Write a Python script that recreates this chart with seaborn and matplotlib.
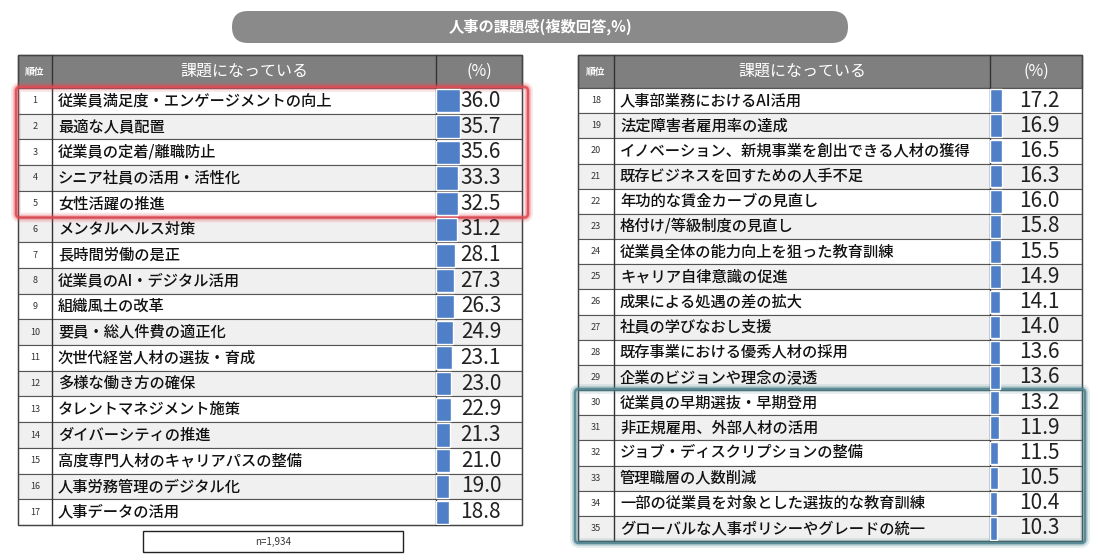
import numpy as np
import pandas as pd
import matplotlib.pyplot as plt
import seaborn as sns
from matplotlib.patches import Rectangle, FancyBboxPatch

sns.set_style("white")
plt.rcParams['font.family'] = ['Noto Sans CJK JP', 'DejaVu Sans']

title = "人事の課題感(複数回答,%)"
header_label = "課題になっている"
header_rank = "順位"
header_pct = "(%)"
note = "n=1,934"

left_items = ["従業員満足度・エンゲージメントの向上", "最適な人員配置", "従業員の定着/離職防止",
              "シニア社員の活用・活性化", "女性活躍の推進", "メンタルヘルス対策", "長時間労働の是正",
              "従業員のAI・デジタル活用", "組織風土の改革", "要員・総人件費の適正化",
              "次世代経営人材の選抜・育成", "多様な働き方の確保", "タレントマネジメント施策",
              "ダイバーシティの推進", "高度専門人材のキャリアパスの整備", "人事労務管理のデジタル化",
              "人事データの活用"]
left_vals = [36.0, 35.7, 35.6, 33.3, 32.5, 31.2, 28.1, 27.3, 26.3, 24.9, 23.1, 23.0, 22.9,
             21.3, 21.0, 19.0, 18.8]
right_items = ["人事部業務におけるAI活用", "法定障害者雇用率の達成", "イノベーション、新規事業を創出できる人材の獲得",
               "既存ビジネスを回すための人手不足", "年功的な賃金カーブの見直し", "格付け/等級制度の見直し",
               "従業員全体の能力向上を狙った教育訓練", "キャリア自律意識の促進", "成果による処遇の差の拡大",
               "社員の学びなおし支援", "既存事業における優秀人材の採用", "企業のビジョンや理念の浸透",
               "従業員の早期選抜・早期登用", "非正規雇用、外部人材の活用", "ジョブ・ディスクリプションの整備",
               "管理職層の人数削減", "一部の従業員を対象とした選抜的な教育訓練", "グローバルな人事ポリシーやグレードの統一"]
right_vals = [17.2, 16.9, 16.5, 16.3, 16.0, 15.8, 15.5, 14.9, 14.1, 14.0, 13.6, 13.6, 13.2,
              11.9, 11.5, 10.5, 10.4, 10.3]
left_ranks = [str(i) for i in range(1, 18)]
right_ranks = [str(i) for i in range(18, 36)]

W, H = 1100, 560
fig = plt.figure(figsize=(11, 5.6), dpi=100)
bg = fig.add_axes([0, 0, 1, 1])
bg.set_xlim(0, W)
bg.set_ylim(H, 0)
bg.axis("off")

# title pill
bg.add_patch(FancyBboxPatch((232, 11), 616, 32, boxstyle="round,pad=0,rounding_size=16",
                            fc="#8a8a8a", ec="none"))
bg.text(540, 27, title, ha="center", va="center", color="white", fontsize=11, fontweight="bold")

bar_color = "#4f7fc6"


def draw_table(x0, xr, xp, x1, bot, ranks, items, vals):
    top, hdr = 55, 88
    n = len(items)
    rh = (bot - hdr) / n
    bg.add_patch(Rectangle((x0, top), x1 - x0, hdr - top, fc="#7f7f7f", ec="#555555", lw=1))
    bg.text((x0 + xr) / 2, (top + hdr) / 2, header_rank, ha="center", va="center",
            color="white", fontsize=7, fontweight="bold")
    bg.text((xr + xp) / 2, (top + hdr) / 2, header_label, ha="center", va="center",
            color="white", fontsize=11.5)
    bg.text((xp + x1) / 2, (top + hdr) / 2, header_pct, ha="center", va="center",
            color="white", fontsize=11.5)
    for i in range(n):
        y = hdr + i * rh
        bg.add_patch(Rectangle((x0, y), x1 - x0, rh, fc="#f0f0f0" if i % 2 else "white",
                               ec="#555555", lw=0.8))
        bg.text((x0 + xr) / 2, y + rh / 2, ranks[i], ha="center", va="center",
                fontsize=6.5, color="#333333")
        bg.text(xr + 6, y + rh / 2, items[i], ha="left", va="center", fontsize=11,
                fontweight="medium", color="#111111")
    for xv in (xr, xp):
        bg.plot([xv, xv], [top, bot], color="#333333", lw=1)
    bg.add_patch(Rectangle((x0, top), x1 - x0, bot - top, fc="none", ec="#444444", lw=1))
    # bars in the % column
    bax = fig.add_axes([xp / W, 1 - bot / H, (x1 - xp) / W, (bot - hdr) / H])
    df = pd.DataFrame({"rank": ranks, "val": vals})
    sns.barplot(data=df, x="val", y="rank", orient="h", color=bar_color, saturation=1,
                width=0.9, ax=bax)
    bax.set_xlim(0, 128)
    bax.set_ylim(n - 0.5, -0.5)
    bax.axis("off")
    bax.patch.set_alpha(0)
    for i, v in enumerate(vals):
        bax.text(97, i, f"{v:.1f}", ha="right", va="center", fontsize=15, color="#222222")
    return hdr, rh


lh, lrh = draw_table(18, 52, 436, 522, 525, left_ranks, left_items, left_vals)
rh0, rrh = draw_table(578, 614, 990, 1082, 541, right_ranks, right_items, right_vals)

# highlight boxes: rows 1-5 left, rows 30-35 right
boxes = [((16, lh - 1), 512, 5 * lrh + 2, "#e04b55"),
         ((575, rh0 + 12 * rrh - 1), 510, 6 * rrh + 3, "#4f8590")]
for (xy, w, h, c) in boxes:
    for lw, a in ((7, 0.15), (4, 0.3), (1.8, 0.9)):
        bg.add_patch(FancyBboxPatch(xy, w, h, boxstyle="round,pad=0,rounding_size=4",
                                    fc="none", ec=c, lw=lw, alpha=a, zorder=5))

bg.add_patch(Rectangle((143, 531), 260, 21, fc="white", ec="#222222", lw=1))
bg.text(273, 541.5, note, ha="center", va="center", fontsize=7, color="#333333")

fig.savefig("out.png", dpi=100)
